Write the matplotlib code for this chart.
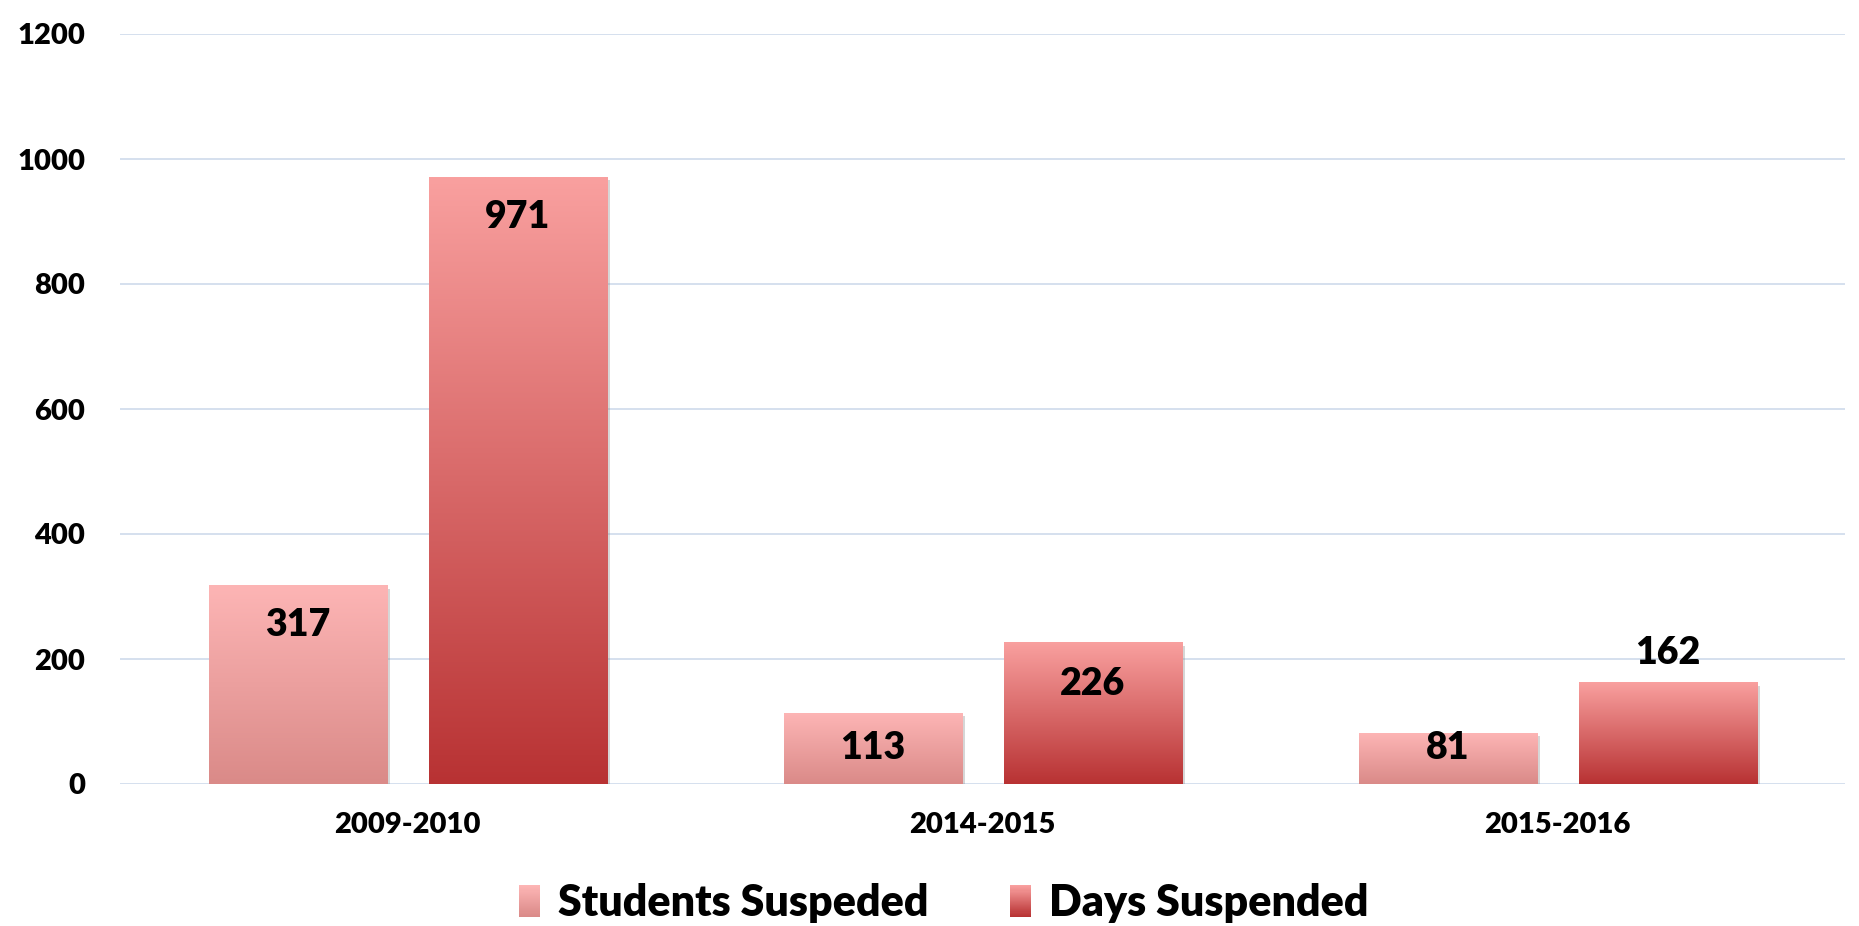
import numpy as np
import matplotlib
matplotlib.use('Agg')
import matplotlib.pyplot as plt
from matplotlib.colors import LinearSegmentedColormap, to_rgb
from matplotlib.patches import Rectangle
from matplotlib.legend_handler import HandlerBase
import matplotlib.patheffects as pe

# ---- data ----
categories = ['2009-2010', '2014-2015', '2015-2016']
students_suspended = [317, 113, 81]
days_suspended = [971, 226, 162]
series_names = ['Students Suspeded', 'Days Suspended']
y_ticks = [0, 200, 400, 600, 800, 1000, 1200]

# ---- style ----
grad_colors = [('#FDB5B5', '#DA8A88'), ('#F9A09F', '#B83233')]  # (top, bottom)
label_offsets_px = [[-39, -35, -15], [-40, -41, 30]]
bar_width = 0.31
bar_offsets = [-0.191, 0.192]
WEIGHT = 'heavy'

plt.rcParams['font.family'] = ['Lato', 'DejaVu Sans']

W, H = 1859, 926
fig = plt.figure(figsize=(W / 100, H / 100), dpi=100)
ax = fig.add_axes([120 / W, 1 - 784 / H, 1725 / W, 750 / H])

x = np.arange(len(categories))
series = [students_suspended, days_suspended]
for i, vals in enumerate(series):
    bars = ax.bar(x + bar_offsets[i], vals, bar_width, color='white', zorder=2,
                  path_effects=[pe.SimplePatchShadow(offset=(2, -2), shadow_rgbFace='#8a8a8a', alpha=0.35),
                                pe.Normal()])
    top, bot = grad_colors[i]
    cmap = LinearSegmentedColormap.from_list('g%d' % i, [bot, top])
    grad = np.linspace(0, 1, 256).reshape(-1, 1)
    for b, v, off in zip(bars, vals, label_offsets_px[i]):
        x0, y0, w, h = b.get_x(), b.get_y(), b.get_width(), b.get_height()
        ax.imshow(grad, cmap=cmap, origin='lower', extent=[x0, x0 + w, y0, y0 + h],
                  aspect='auto', zorder=3, interpolation='bilinear')
        ax.annotate(str(v), (x0 + w / 2, y0 + h), xytext=(0, off * 0.72),
                    textcoords='offset points', ha='center', va='center',
                    fontsize=27, fontweight=WEIGHT, color='black', zorder=5)

ax.set_xlim(-0.5, len(categories) - 0.5)
ax.set_ylim(0, 1200)
ax.set_yticks(y_ticks)
ax.set_xticks(x)
ax.set_xticklabels(categories)
ax.set_aspect('auto')
for s in ax.spines.values():
    s.set_visible(False)
ax.tick_params(axis='both', length=0, labelsize=21)
ax.tick_params(axis='y', pad=25)
ax.tick_params(axis='x', pad=20)
for lab in ax.get_xticklabels() + ax.get_yticklabels():
    lab.set_fontweight(WEIGHT)
ax.yaxis.grid(True, color='#D5E0EE', linewidth=1.4, zorder=0)
ax.set_axisbelow(True)


class GradHandler(HandlerBase):
    def __init__(self, top, bot):
        super().__init__()
        self.top = to_rgb(top)
        self.bot = to_rgb(bot)

    def create_artists(self, legend, orig_handle, xdescent, ydescent, width, height, fontsize, trans):
        n = 30
        arts = []
        for k in range(n):
            t = k / (n - 1)
            c = [b + (tt - b) * t for b, tt in zip(self.bot, self.top)]
            r = Rectangle((-xdescent, -ydescent + height * k / n), width, height / n * 1.05,
                          facecolor=c, edgecolor='none', transform=trans)
            arts.append(r)
        return arts


h1 = Rectangle((0, 0), 1, 1)
h2 = Rectangle((0, 0), 1, 1)
fig.legend([h1, h2], series_names,
           handler_map={h1: GradHandler(*grad_colors[0]), h2: GradHandler(*grad_colors[1])},
           loc='center', bbox_to_anchor=(943.5 / W, 1 - 903 / H), ncol=2, frameon=False,
           prop={'size': 31, 'weight': WEIGHT}, handlelength=0.5, handleheight=0.75,
           handletextpad=0.4, columnspacing=1.9, borderpad=0, borderaxespad=0)

fig.savefig('out.png', dpi=100)
